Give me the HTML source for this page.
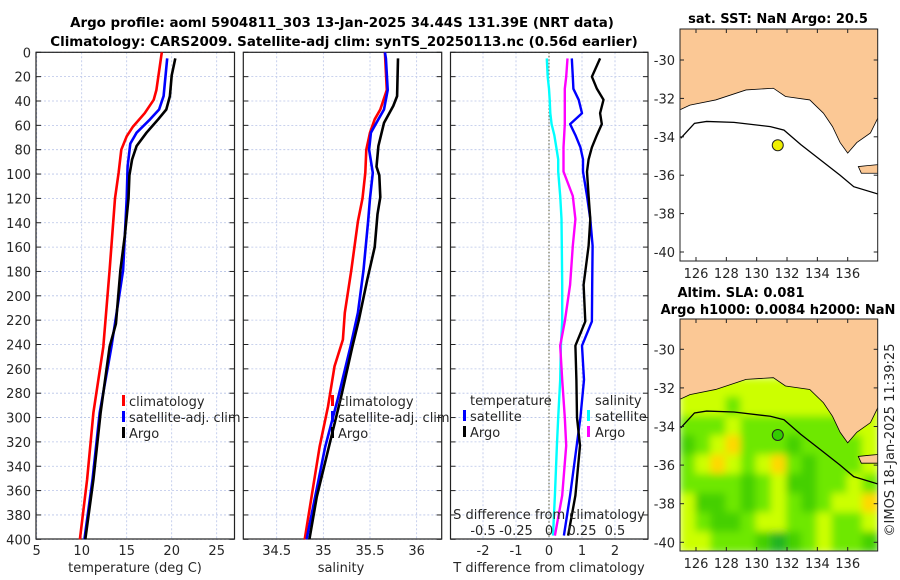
<!DOCTYPE html>
<html><head><meta charset="utf-8">
<style>
html,body{margin:0;padding:0;background:#fff;}
svg{display:block;font-family:"DejaVu Sans","Liberation Sans",sans-serif;}
.t{font-size:13px;fill:#262626;}
.b{font-size:13px;font-weight:bold;fill:#000;}
.bt{font-size:13.4px;font-weight:bold;fill:#000;}
</style></head><body>
<svg id="fig" width="900" height="580" viewBox="0 0 900 580" xmlns="http://www.w3.org/2000/svg">
<text class="bt" x="342" y="27" text-anchor="middle">Argo profile: aoml 5904811_303 13-Jan-2025 34.44S 131.39E (NRT data)</text>
<text class="bt" x="344" y="46" text-anchor="middle">Climatology: CARS2009. Satellite-adj clim: synTS_20250113.nc (0.56d earlier)</text>
<g id="p1"></g>
<g id="p2"></g>
<g id="p3"></g>
<g id="m1"></g>
<g id="m2"></g>
<text class="t" transform="translate(894,440) rotate(-90)" text-anchor="middle">©IMOS 18-Jan-2025 11:39:25</text>
</svg>
<script>
// ---------- data ----------
const depthTicks=[0,20,40,60,80,100,120,140,160,180,200,220,240,260,280,300,320,340,360,380,400];
const tTicks=[5,10,15,20,25];
const sTicks=[34.5,35,35.5,36];
const tdTicks=[-2,-1,0,1,2];
const sdTicks=[-0.5,-0.25,0,0.25,0.5];
const sdTickLabels=["-0.5","-0.25","0","0.25","0.5"];
const tClimDepth=[0,31,39,50,61,69,80,99,120,179,242,296,351,400];
const tClim=[18.9,18.3,18.0,17.0,15.7,15.0,14.4,14.1,13.7,13.1,12.4,11.3,10.6,9.8];
const tSatDepth=[5,36,47,55,66,75,94,120,179,242,296,351,400];
const tSat=[19.5,19.1,18.6,17.6,16.1,15.4,15.1,15.0,14.6,13.3,12.0,11.2,10.3];
const tArgoDepth=[5,19,36,47,55,66,77,88,101,120,150,179,223,242,296,351,400];
const tArgo=[20.4,20.0,19.8,19.4,18.5,17.2,16.1,15.6,15.3,15.2,14.8,14.3,13.8,13.1,12.1,11.3,10.4];
const sClimDepth=[0,31,47,55,66,80,99,120,139,179,214,236,258,291,324,400];
const sClim=[35.66,35.68,35.61,35.55,35.5,35.46,35.45,35.42,35.37,35.3,35.23,35.21,35.12,35.05,34.96,34.8];
const sSatDepth=[0,5,31,47,55,66,80,99,120,139,179,214,242,283,324,400];
const sSat=[35.66,35.67,35.69,35.65,35.59,35.51,35.49,35.53,35.5,35.48,35.43,35.37,35.29,35.16,35.02,34.82];
const sArgoDepth=[5,36,44,58,77,94,101,119,133,160,187,220,242,283,324,365,400];
const sArgo=[35.8,35.79,35.75,35.65,35.59,35.57,35.6,35.61,35.58,35.55,35.47,35.38,35.31,35.19,35.06,34.93,34.85];
const dDepth=[5,20,30,39,50,59,68,78,88,98,118,137,159,191,221,241,269,300,323,364,397];
const dtArgo=[1.55,1.3,1.45,1.65,1.55,1.6,1.45,1.3,1.2,1.15,1.2,1.25,1.2,1.05,1.1,0.8,0.83,0.85,0.94,0.8,0.58];
const dtSat=[0.69,0.72,0.74,0.9,1.0,0.64,0.8,0.95,1.03,1.03,1.15,1.25,1.32,1.31,1.3,1.0,1.06,0.95,0.84,0.64,0.45];
const dsSat=[-0.017,-0.01,0.0,0.005,0.01,0.02,0.04,0.055,0.07,0.07,0.085,0.095,0.097,0.1,0.1,0.09,0.085,0.07,0.06,0.045,0.03];
const dsArgo=[0.14,0.13,0.12,0.12,0.12,0.12,0.115,0.11,0.11,0.11,0.18,0.2,0.18,0.16,0.12,0.085,0.1,0.12,0.13,0.1,0.045];
const lonTicks=[126,128,130,132,134,136];
const latTicks=[-30,-32,-34,-36,-38,-40];
const coastLon=[125,125.6,127.3,129.3,131.1,131.9,133.5,134.4,135.0,135.5,136.0,136.6,137.5,138.0];
const coastLat=[-32.57,-32.35,-32.08,-31.56,-31.47,-31.9,-32.08,-32.77,-33.47,-34.3,-34.85,-34.3,-33.8,-33.0];
const kiLon=[136.7,137.3,138,138,136.9];
const kiLat=[-35.55,-35.5,-35.45,-35.9,-35.9];
const isoLon=[125,125.9,126.7,128.5,130.9,131.8,132.9,134.2,135.5,136.4,138];
const isoLat=[-34.07,-33.3,-33.2,-33.25,-33.47,-33.65,-34.4,-35.2,-36.0,-36.6,-36.98];
const argoLon=131.39, argoLat=-34.44;
const slaLat=[-32,-33,-34,-35,-36,-37,-38,-39,-40];
const slaLon=[125.5,126.5,127.5,128.5,129.5,130.5,131.5,132.5,133.5,134.5,135.5,136.5,137.5];
const slaGrid=[
[3,3,3,3,3,3,3,3,3,3,3,3,3],
[3,3,3,2,3,3,3,3,3,3,3,3,3],
[2,2,2,3,2,2,2,2,2,2,2,3,3],
[1,2,3,4,2,2,2,1,2,2,2,2,3],
[2,3,4,3,2,3,4,2,1,2,2,2,3],
[2,2,2,2,1,2,3,1,1,2,2,3,2],
[3,1,1,2,1,2,3,2,1,2,3,3,4],
[3,2,1,1,2,3,3,2,2,3,2,2,3],
[3,3,2,2,2,1,0,1,2,3,2,2,1]];
const slaColors=["#22b422","#44d000","#6ee800","#ccff00","#ffd800"];

const NS="http://www.w3.org/2000/svg";
function mk(parent,tag,attrs,txt){const e=document.createElementNS(NS,tag);for(const k in attrs)e.setAttribute(k,attrs[k]);if(txt!==undefined)e.textContent=txt;parent.appendChild(e);return e;}
const Y0=52.3,YK=1.2175,Y1=539;
const yD=d=>Y0+d*YK;

function panel(g,x0,x1,xs,xt,xtl,showY){
  xt.forEach(v=>{const x=xs(v);mk(g,'line',{x1:x,x2:x,y1:Y0,y2:Y1,stroke:'#b8c4e8','stroke-width':0.8,'stroke-dasharray':'2,2'});});
  depthTicks.forEach(d=>{mk(g,'line',{x1:x0,x2:x1,y1:yD(d),y2:yD(d),stroke:'#b8c4e8','stroke-width':0.8,'stroke-dasharray':'2,2'});
    mk(g,'line',{x1:x0,x2:x0+5,y1:yD(d),y2:yD(d),stroke:'#222'});mk(g,'line',{x1:x1-5,x2:x1,y1:yD(d),y2:yD(d),stroke:'#222'});
    if(showY){const t=mk(g,'text',{class:'t',x:x0-5,y:yD(d)+5,'text-anchor':'end'},String(d));
      
      }
  });
  xt.forEach((v,i)=>{const x=xs(v);
    const t=mk(g,'text',{class:'t',x:x,y:555,'text-anchor':'middle'},xtl?xtl[i]:String(v));
    
    
  });
  const r=mk(g,'rect',{x:x0,y:Y0,width:x1-x0,height:Y1-Y0,fill:'none',stroke:'#222','stroke-width':1.2});
  
  
}
function line(g,xs,vals,depths,color,name,w){
  const pts=vals.map((v,i)=>xs(v).toFixed(1)+','+yD(depths[i]).toFixed(1)).join(' ');
  const p=mk(g,'polyline',{points:pts,fill:'none',stroke:color,'stroke-width':w||2.6,'stroke-linejoin':'round'});
  
  
}
function legend(g,x,y,items,textX){
  items.forEach((it,i)=>{
    if(it.c) mk(g,'rect',{x:x,y:y+i*16-11,width:3,height:11,fill:it.c});
    if(it.l){const t=mk(g,'text',{class:'t',x:textX,y:y+i*16},it.l);
    
    }
  });
}
const p1=document.getElementById('p1');
const xT=v=>36.7+(v-5)*9;
panel(p1,36,234.5,xT,tTicks,null,true);
line(p1,xT,tClim,tClimDepth,'#ff0000','temp-climatology-line');
line(p1,xT,tSat,tSatDepth,'#0000ff','temp-satellite-line');
line(p1,xT,tArgo,tArgoDepth,'#000000','temp-argo-line');
legend(p1,122,406,[{c:'#f00',l:'climatology'},{c:'#00f',l:'satellite-adj. clim'},{c:'#000',l:'Argo'}],129);
mk(p1,'text',{class:'t',x:135,y:572,'text-anchor':'middle',},'temperature (deg C)');
const p2=document.getElementById('p2');
const xS=v=>276.7+(v-34.5)*93.3;
panel(p2,243.3,441.7,xS,sTicks,null,false);
line(p2,xS,sClim,sClimDepth,'#ff0000','sal-climatology-line');
line(p2,xS,sSat,sSatDepth,'#0000ff','sal-satellite-line');
line(p2,xS,sArgo,sArgoDepth,'#000000','sal-argo-line');
legend(p2,331,406,[{c:'#f00',l:'climatology'},{c:'#00f',l:'satellite-adj. clim'},{c:'#000',l:'Argo'}],338);
mk(p2,'text',{class:'t',x:341,y:572,'text-anchor':'middle',},'salinity');
const p3=document.getElementById('p3');
const xTD=v=>549+v*33;
const xSD=v=>549+v*132;
panel(p3,450.5,648,xTD,tdTicks,null,false);
mk(p3,'line',{x1:549,x2:549,y1:Y0,y2:Y1,stroke:'#555533','stroke-width':1,'stroke-dasharray':'1.5,2',});
line(p3,xSD,dsSat,dDepth,'#00ffff','sal-diff-satellite-line',2.4);
line(p3,xSD,dsArgo,dDepth,'#ff00ff','sal-diff-argo-line',2.4);
line(p3,xTD,dtSat,dDepth,'#0000ff','temp-diff-satellite-line',2.4);
line(p3,xTD,dtArgo,dDepth,'#000000','temp-diff-argo-line',2.4);
legend(p3,463,405,[{l:'temperature'},{c:'#00f',l:'satellite'},{c:'#000',l:'Argo'}],470);
legend(p3,587,405,[{l:'salinity'},{c:'#0ff',l:'satellite'},{c:'#f0f',l:'Argo'}],595);
mk(p3,'text',{class:'t',x:549,y:519,'text-anchor':'middle',},'S difference from climatology');
sdTicks.forEach((v,i)=>{const t=mk(p3,'text',{class:'t',x:xSD(v),y:535,'text-anchor':'middle'},sdTickLabels[i]);
  
  });
mk(p3,'text',{class:'t',x:549,y:572,'text-anchor':'middle',},'T difference from climatology');

function map(g,top,bot,lat30y,lat40y,title,withSLA,id){
  const L=680,R=877.7;
  const xl=v=>696+(v-126)*15.17;
  const yl=v=>lat30y+(-30-v)*(lat40y-lat30y)/10;
  const clip=mk(g,'clipPath',{id:'c'+id});mk(clip,'rect',{x:L,y:top,width:R-L,height:bot-top});
  const inner=mk(g,'g',{'clip-path':'url(#c'+id+')'});
  mk(inner,'rect',{x:L,y:top,width:R-L,height:bot-top,fill:'#fff'});
  if(withSLA){
    const f=mk(g,'filter',{id:'bl'+id});mk(f,'feGaussianBlur',{stdDeviation:4});
    const hg=mk(inner,'g',{filter:'url(#bl'+id+')'});
    slaGrid.forEach((row,i)=>row.forEach((c,j)=>{
      const x=xl(slaLon[j]-0.5),y=yl(slaLat[i]+0.5);
      const r=mk(hg,'rect',{x:x-1,y:y-1,width:15.17+2,height:(lat40y-lat30y)/10+2,fill:slaColors[c]});
      
      
    }));
  }
  let pts=coastLon.map((v,i)=>xl(v)+','+yl(coastLat[i])).join(' ');
  pts+=' '+xl(138.5)+','+yl(-33)+' '+xl(138.5)+','+yl(-27)+' '+xl(124)+','+yl(-27)+' '+xl(124)+','+yl(-32.57);
  const land=mk(inner,'polygon',{points:pts,fill:'#fbc895',stroke:'#000','stroke-width':0.8});
  
  
  mk(inner,'polygon',{points:kiLon.map((v,i)=>xl(v)+','+yl(kiLat[i])).join(' '),fill:'#fbc895',stroke:'#000','stroke-width':0.8});
  const iso=mk(inner,'polyline',{points:isoLon.map((v,i)=>xl(v)+','+yl(isoLat[i])).join(' '),fill:'none',stroke:'#000','stroke-width':1.3});
  
  
  const dot=mk(g,'circle',{cx:xl(argoLon),cy:yl(argoLat),r:5.5,fill:withSLA?'#33cc00':'#eeee00',stroke:'#222','stroke-width':1});
  
  
  mk(g,'rect',{x:L,y:top,width:R-L,height:bot-top,fill:'none',stroke:'#222','stroke-width':1});
  lonTicks.forEach(v=>{const x=xl(v);mk(g,'line',{x1:x,x2:x,y1:bot,y2:bot-4,stroke:'#222'});mk(g,'line',{x1:x,x2:x,y1:top,y2:top+4,stroke:'#222'});
    const t=mk(g,'text',{class:'t',x:x,y:bot+17,'text-anchor':'middle'},String(v));
    
    });
  latTicks.forEach(v=>{const y=yl(v);mk(g,'line',{x1:L,x2:L+4,y1:y,y2:y,stroke:'#222'});mk(g,'line',{x1:R-4,x2:R,y1:y,y2:y,stroke:'#222'});
    const t=mk(g,'text',{class:'t',x:L-5,y:y+5,'text-anchor':'end'},String(v));
    
    });
  title.forEach((s,i)=>{const t=mk(g,'text',{class:'b',x:s[1],y:s[2],'text-anchor':'middle'},s[0]);
    
    });
}
map(document.getElementById('m1'),29,261,60,252,[['sat. SST: NaN Argo: 20.5',778,23]],false,1);
map(document.getElementById('m2'),319,551,349.3,542.3,[['Altim. SLA: 0.081',741,297],['Argo h1000: 0.0084 h2000: NaN',778,314]],true,2);
</script>
</body></html>
